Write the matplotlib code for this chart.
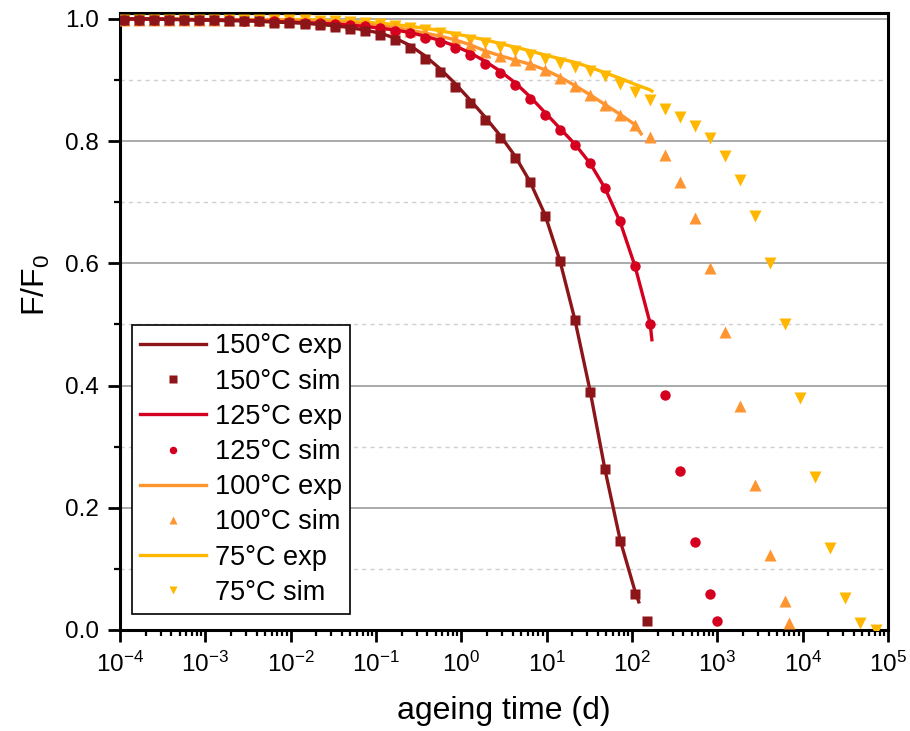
import matplotlib
matplotlib.use('agg')
import matplotlib.pyplot as plt
from matplotlib.ticker import MultipleLocator, LogLocator, NullFormatter

plt.rcParams['font.family'] = ['Liberation Sans', 'DejaVu Sans']
plt.rcParams['mathtext.fontset'] = 'custom'
plt.rcParams['mathtext.rm'] = 'Liberation Sans'
plt.rcParams['mathtext.it'] = 'Liberation Sans:italic'
plt.rcParams['mathtext.bf'] = 'Liberation Sans:bold'

# simulation time grid (d)
t_sim = [1.12e-4, 1.68e-4, 2.52e-4, 3.78e-4, 5.67e-4, 8.51e-4, 1.276e-3, 1.914e-3,
         2.871e-3, 4.306e-3, 6.459e-3, 9.688e-3, 0.01453, 0.0218, 0.03269, 0.04904,
         0.07356, 0.1104, 0.1655, 0.2483, 0.3724, 0.5587, 0.838, 1.257, 1.885, 2.828,
         4.242, 6.363, 9.545, 14.32, 21.48, 32.21, 48.32, 72.48, 108.7, 163.1, 244.6,
         366.9, 550.4, 825.6, 1238, 1858, 2786, 4180, 6270, 9404, 14106, 21160, 31739,
         47609, 71414]

sim_150 = [0.999, 0.999, 0.999, 0.999, 0.998, 0.998, 0.998, 0.997, 0.997, 0.996,
           0.994, 0.993, 0.992, 0.990, 0.987, 0.984, 0.980, 0.974, 0.965, 0.952,
           0.934, 0.914, 0.889, 0.862, 0.834, 0.806, 0.773, 0.734, 0.678, 0.604,
           0.507, 0.390, 0.264, 0.146, 0.059, 0.015]
sim_125 = [0.999, 0.999, 0.999, 0.999, 0.999, 0.998, 0.998, 0.998, 0.997, 0.997,
           0.996, 0.995, 0.994, 0.993, 0.991, 0.990, 0.988, 0.985, 0.981, 0.977,
           0.969, 0.962, 0.952, 0.941, 0.927, 0.911, 0.892, 0.869, 0.843, 0.818,
           0.793, 0.764, 0.724, 0.670, 0.596, 0.501, 0.385, 0.260, 0.144, 0.059, 0.015]
sim_100 = [0.999, 0.999, 0.999, 0.999, 0.999, 0.999, 0.999, 0.999, 0.998, 0.998,
           0.998, 0.997, 0.996, 0.995, 0.994, 0.992, 0.990, 0.988, 0.985, 0.981,
           0.976, 0.972, 0.966, 0.957, 0.946, 0.939, 0.933, 0.926, 0.917, 0.904,
           0.890, 0.875, 0.859, 0.843, 0.826, 0.807, 0.777, 0.733, 0.674, 0.592,
           0.488, 0.366, 0.238, 0.123, 0.047, 0.011]
sim_75 = [0.999, 0.999, 0.999, 0.999, 0.999, 0.999, 0.999, 0.999, 0.999, 0.999,
          0.998, 0.998, 0.998, 0.997, 0.996, 0.995, 0.993, 0.991, 0.989, 0.986,
          0.982, 0.977, 0.971, 0.966, 0.960, 0.954, 0.948, 0.941, 0.934, 0.928,
          0.922, 0.915, 0.906, 0.894, 0.881, 0.867, 0.853, 0.840, 0.825, 0.806,
          0.776, 0.736, 0.678, 0.601, 0.500, 0.379, 0.251, 0.134, 0.052, 0.012, 0.0]

# last simulated point of the shorter series sits off the grid
t_sim_150 = t_sim[:35] + [150]
t_sim_125 = t_sim[:40] + [1000]
t_sim_100 = t_sim[:45] + [7000]
t_sim_75 = t_sim[:51]

# experimental curves
t_exp_150 = [1e-4] + t_sim[:35] + [120]
exp_150 = [1.0, 1.0, 1.0, 1.0, 0.999, 0.999, 0.998, 0.998, 0.997, 0.997, 0.996,
           0.995, 0.994, 0.993, 0.991, 0.989, 0.986, 0.982, 0.977, 0.969, 0.957,
           0.940, 0.919, 0.895, 0.868, 0.840, 0.810, 0.776, 0.734, 0.680, 0.604,
           0.507, 0.392, 0.262, 0.148, 0.063, 0.046]
t_exp_125 = [1e-4] + t_sim[:36] + [171]
exp_125 = [1.0, 1.0, 1.0, 1.0, 1.0, 0.999, 0.999, 0.999, 0.998, 0.998, 0.997,
           0.996, 0.995, 0.994, 0.993, 0.992, 0.990, 0.988, 0.985, 0.982, 0.978,
           0.972, 0.965, 0.956, 0.945, 0.931, 0.915, 0.896, 0.873, 0.847, 0.821,
           0.795, 0.764, 0.723, 0.668, 0.595, 0.502, 0.475]
t_exp_100 = [1e-4] + t_sim[:35] + [128]
exp_100 = [1.0, 1.0, 1.0, 1.0, 1.0, 0.999, 0.999, 0.999, 0.999, 0.999, 0.999,
           0.999, 0.998, 0.997, 0.996, 0.995, 0.993, 0.991, 0.989, 0.986, 0.982,
           0.977, 0.972, 0.966, 0.958, 0.948, 0.940, 0.933, 0.926, 0.917, 0.905,
           0.891, 0.876, 0.860, 0.844, 0.827, 0.812]
t_exp_75 = [1e-4] + t_sim[:36] + [171]
exp_75 = [1.0, 1.0, 1.0, 1.0, 1.0, 1.0, 0.999, 0.999, 0.999, 0.999, 0.999, 0.999,
          0.999, 0.999, 0.998, 0.997, 0.996, 0.995, 0.993, 0.991, 0.988, 0.985,
          0.981, 0.976, 0.971, 0.966, 0.960, 0.954, 0.948, 0.941, 0.935, 0.929,
          0.921, 0.912, 0.903, 0.893, 0.884, 0.882]

labels = ['150°C', '125°C', '100°C', '75°C']
colors = ['#8c1519', '#d5001f', '#ff9530', '#ffb700']
markers = ['s', 'o', '^', 'v']
msizes = [7.5, 7.5, 8.5, 8.5]

exp_t = [t_exp_150, t_exp_125, t_exp_100, t_exp_75]
exp_y = [exp_150, exp_125, exp_100, exp_75]
sim_t = [t_sim_150, t_sim_125, t_sim_100, t_sim_75]
sim_y = [sim_150, sim_125, sim_100, sim_75]

fig = plt.figure(figsize=(9.1, 7.31), dpi=100)
ax = fig.add_axes([120 / 910, 1 - 630 / 731, 768 / 910, 617 / 731])

handles = {}
# draw coolest first so 150°C ends up on top
for i in [3, 2, 1, 0]:
    l, = ax.plot(exp_t[i], exp_y[i], color=colors[i], lw=2.4, zorder=3 + (3 - i) * 0.1,
                 label=labels[i] + ' exp')
    s, = ax.plot(sim_t[i], sim_y[i], ls='none', marker=markers[i], ms=msizes[i],
                 color=colors[i], mec='none', zorder=3.05 + (3 - i) * 0.1,
                 label=labels[i] + ' sim')
    handles[i] = (l, s)

ax.set_xscale('log')
ax.set_xlim(1e-4, 1e5)
ax.set_ylim(0, 1.0098)

ax.yaxis.set_major_locator(MultipleLocator(0.2))
ax.yaxis.set_minor_locator(MultipleLocator(0.1))
ax.yaxis.set_major_formatter(plt.FormatStrFormatter('%.1f'))
ax.xaxis.set_major_locator(LogLocator(base=10, numticks=20))
ax.xaxis.set_minor_locator(LogLocator(base=10, subs=range(2, 10), numticks=20))
ax.xaxis.set_minor_formatter(NullFormatter())

ax.grid(axis='y', which='major', color='#a4a4a4', lw=1.3, ls='-')
ax.grid(axis='y', which='minor', color='#cfcfcf', lw=1.0, ls=(0, (3, 3)))
ax.set_axisbelow(True)

ax.tick_params(which='major', direction='out', length=8.5, width=2.0, labelsize=17.5,
               top=False, right=False)
ax.tick_params(axis='y', which='major', pad=6.5)
ax.tick_params(axis='x', which='major', pad=7)
ax.tick_params(which='minor', direction='out', length=4.5, width=1.6, top=False, right=False)
for sp in ax.spines.values():
    sp.set_linewidth(2.2)

ax.set_xlabel('ageing time (d)', fontsize=23)
ax.set_ylabel('F/F$_0$', fontsize=23)
ax.xaxis.set_label_coords(0.5, -0.107)
ax.yaxis.set_label_coords(-0.088, 0.559)

order = []
for i in range(4):
    order += list(handles[i])
leg = ax.legend(handles=order, loc='lower left', bbox_to_anchor=(0.0156, 0.026),
                borderaxespad=0, fontsize=19.5, frameon=True, fancybox=False,
                edgecolor='black', framealpha=1, handlelength=2.45, handletextpad=0.3,
                labelspacing=0.34, borderpad=0.3, markerscale=0.72)
leg.get_frame().set_linewidth(1.2)

fig.savefig('out.png', dpi=100)
